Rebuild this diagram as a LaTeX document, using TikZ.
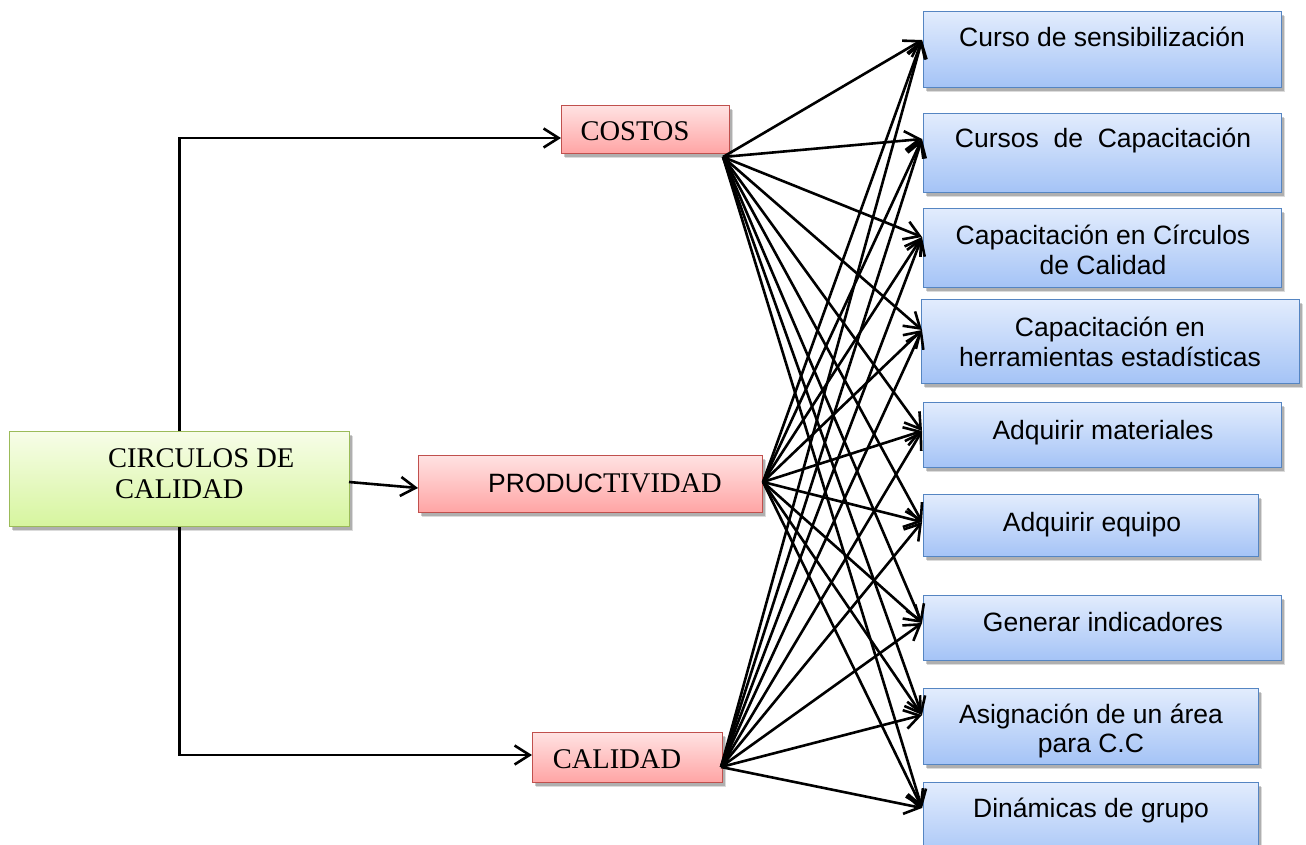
\documentclass[tikz,border=0pt]{standalone}
\usepackage{fontspec}
\setmainfont{Liberation Serif}
\newfontfamily\sansf{Liberation Sans}
\usetikzlibrary{arrows.meta,shadows}

\definecolor{bluetop}{HTML}{E2ECFD}
\definecolor{bluebot}{HTML}{A4C3F6}
\definecolor{blueline}{HTML}{5585C2}
\definecolor{redtop}{HTML}{FFE2E2}
\definecolor{redbot}{HTML}{FFA4A4}
\definecolor{redline}{HTML}{C0504D}
\definecolor{greentop}{HTML}{F7FDE8}
\definecolor{greenbot}{HTML}{D6F59E}
\definecolor{greenline}{HTML}{9BBB59}

\tikzset{
  box/.style={draw, line width=1.4pt, inner sep=0pt, anchor=north west,
    drop shadow={shadow xshift=3pt, shadow yshift=-4.5pt, opacity=0.14, fill=black},
    drop shadow={shadow xshift=2pt, shadow yshift=-3pt, opacity=0.2, fill=black}},
  bluebox/.style={box, draw=blueline, top color=bluetop, bottom color=bluebot},
  redbox/.style={box, draw=redline, top color=redtop, bottom color=redbot},
  greenbox/.style={box, draw=greenline, top color=greentop, bottom color=greenbot},
  lab/.style={anchor=base, inner sep=0pt, font=\sansf\fontsize{26.5}{30}\selectfont},
  slab/.style={anchor=base, inner sep=0pt, font=\fontsize{28.5}{32}\selectfont},
  arr/.style={line width=2.6pt, -{Straight Barb[length=15pt,width=19pt]}},
}

\begin{document}
\begin{tikzpicture}[x=1pt, y=-1pt]
\useasboundingbox (0,0) rectangle (1306,845);

% root box
\node[greenbox, minimum width=340pt, minimum height=95pt] (cir) at (9,431) {};
\node[slab, anchor=base west] (cir1) at (108,467) {CIRCULOS DE};
\node[slab, anchor=base west] (cir2) at (115,498) {CALIDAD};

% middle boxes
\node[redbox, minimum width=168pt, minimum height=48pt] (cos) at (561,105) {};
\node[slab] (tcos) at (635,141) {COSTOS};
\node[redbox, minimum width=344pt, minimum height=57pt] (prod) at (418,455) {};
\node[slab] (tprod) at (605,492) {{\sansf\fontsize{26.5}{30}\selectfont PRODUC}TIVIDAD};
\node[redbox, minimum width=190pt, minimum height=50pt] (cal) at (532,732) {};
\node[slab] (tcal) at (617,768) {CALIDAD};

% action boxes
\node[bluebox, minimum width=358pt, minimum height=76pt] (b1) at (923,11) {};
\node[bluebox, minimum width=358pt, minimum height=79pt] (b2) at (923,113) {};
\node[bluebox, minimum width=358pt, minimum height=79pt] (b3) at (923,208) {};
\node[bluebox, minimum width=378pt, minimum height=84pt] (b4) at (921,299) {};
\node[bluebox, minimum width=358pt, minimum height=65pt] (b5) at (923,402) {};
\node[bluebox, minimum width=335pt, minimum height=62pt] (b6) at (923,494) {};
\node[bluebox, minimum width=358pt, minimum height=65pt] (b7) at (923,595) {};
\node[bluebox, minimum width=335pt, minimum height=76pt] (b8) at (923,688) {};
\node[bluebox, minimum width=335pt, minimum height=80pt] (b9) at (923,782) {};

\node[lab] (l1) at (1102,47) {Curso de sensibilización};
\node[lab] (l2) at (1103,148) {Cursos\ \ de\ \ Capacitación};
\node[lab] (l3a) at (1103,244) {Capacitación en Círculos};
\node[lab] (l3b) at (1103,274) {de Calidad};
\node[lab] (l4a) at (1110,336) {Capacitación en};
\node[lab] (l4b) at (1110,366) {herramientas estadísticas};
\node[lab] (l5) at (1103,439) {Adquirir materiales};
\node[lab] (l6) at (1092,531) {Adquirir equipo};
\node[lab] (l7) at (1103,631) {Generar indicadores};
\node[lab] (l8a) at (1091,723) {Asignación de un área};
\node[lab] (l8b) at (1091,752) {para C.C};
\node[lab] (l9) at (1091,817) {Dinámicas de grupo};

% connector ends
\coordinate (cosin) at (561,138);
\coordinate (cirout) at (349,482);
\coordinate (prodin) at (418,488);
\coordinate (calin) at (532,755);
\coordinate (s1) at (723,157);
\coordinate (s2) at (763,482);
\coordinate (s3) at (721,767);
\coordinate (t1) at (922,40);
\coordinate (t2) at (922,139);
\coordinate (t3) at (922,237);
\coordinate (t4) at (922,330);
\coordinate (t5) at (922,431);
\coordinate (t6) at (922,522);
\coordinate (t7) at (922,623);
\coordinate (t8) at (922,715);
\coordinate (t9) at (922,808);

% root to the three criteria
\draw[arr] (cir.north) |- (cosin);
\draw[arr] (cirout) -- (prodin);
\draw[arr] (cir.south) |- (calin);

% every criterion to every action
\foreach \s in {s1,s2,s3}
  \foreach \t in {t1,t2,t3,t4,t5,t6,t7,t8,t9}
    \draw[arr] (\s) -- (\t);
\end{tikzpicture}
\end{document}
